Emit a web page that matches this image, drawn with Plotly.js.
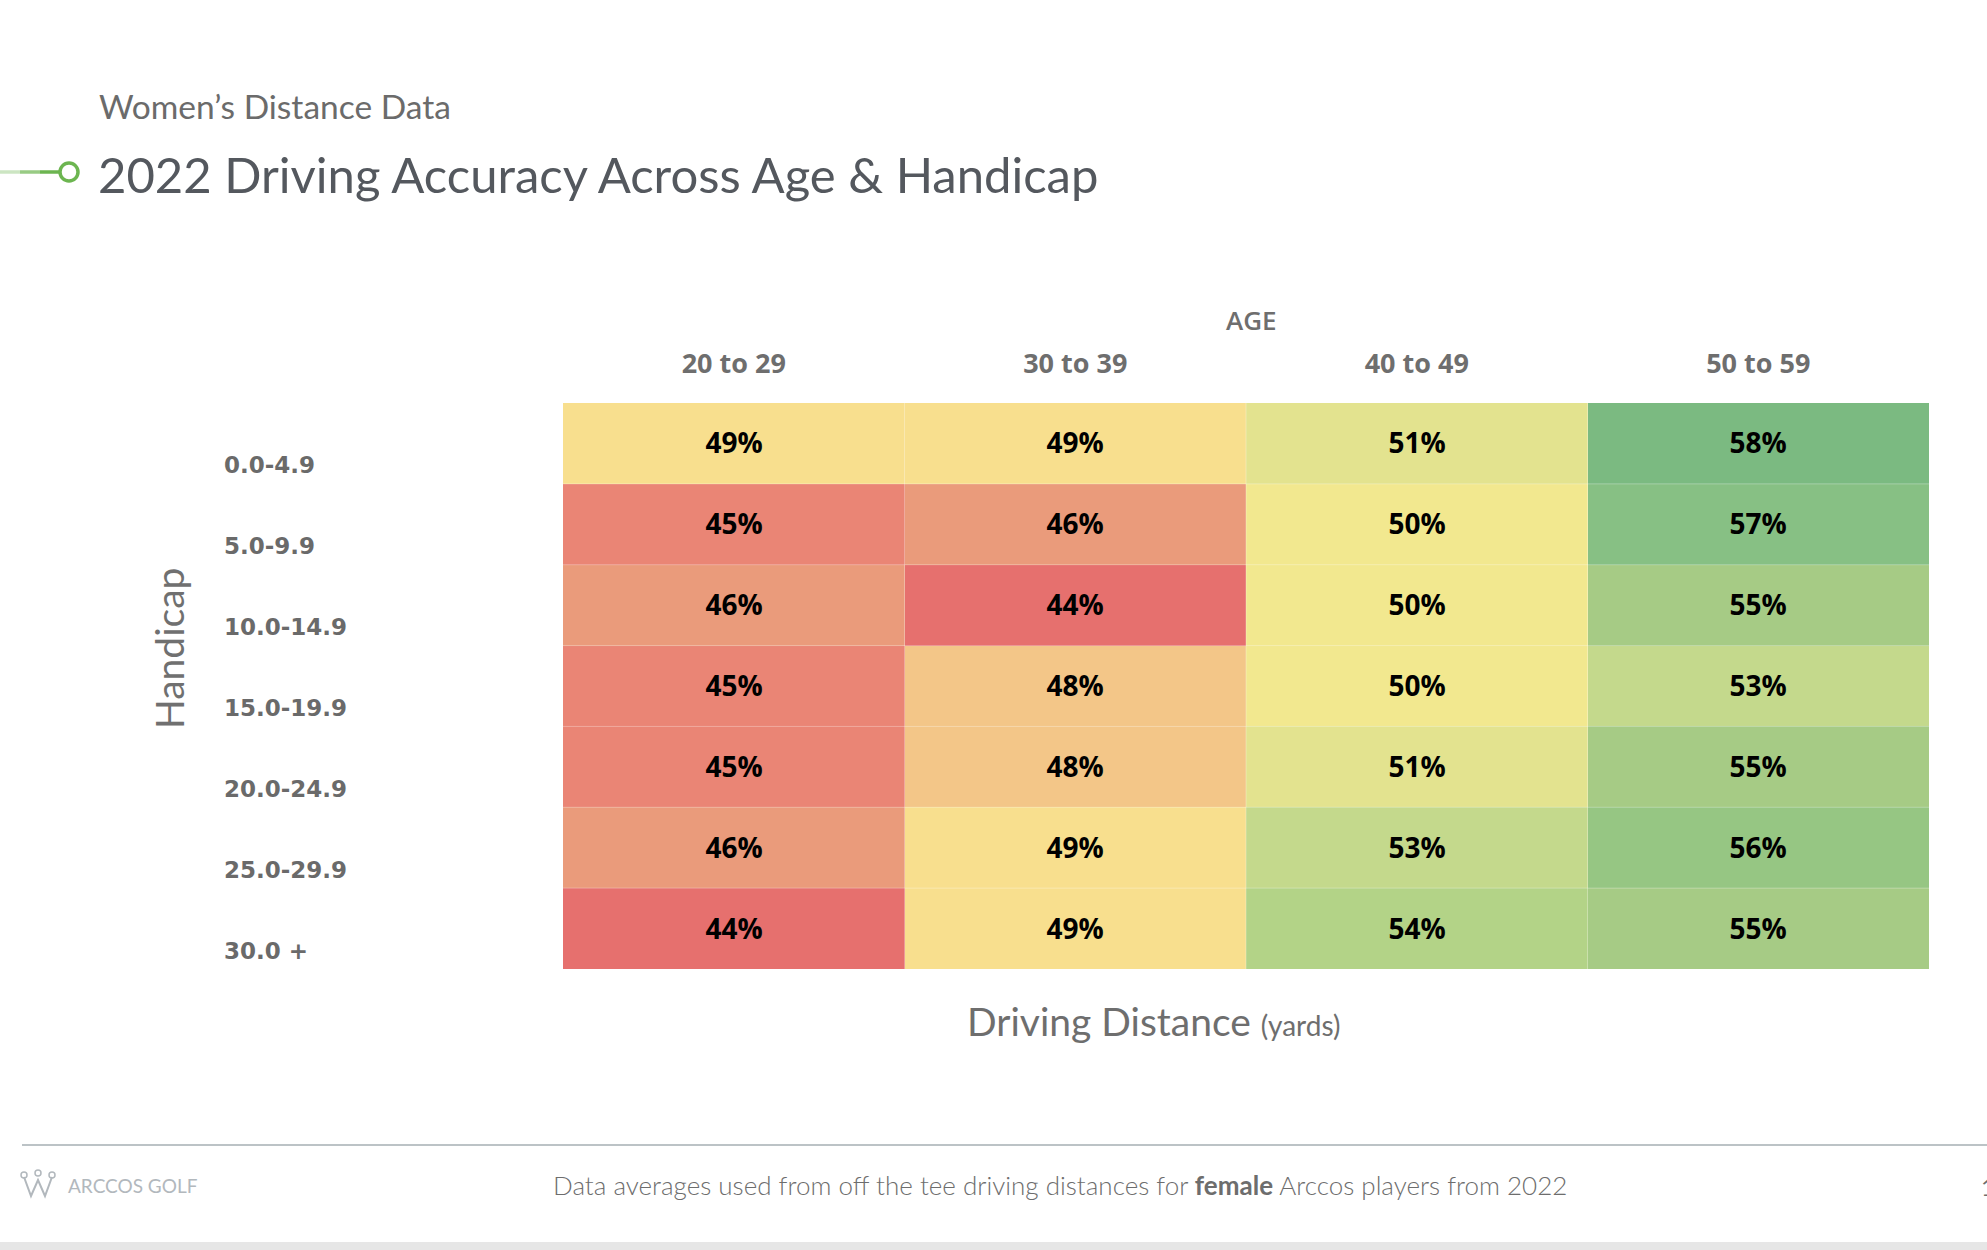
<!DOCTYPE html>
<html>
<head>
<meta charset="utf-8">
<script src="https://cdn.plot.ly/plotly-3.0.1.min.js"></script>
<style>
html,body{margin:0;padding:0;background:#fff;}
#chart{width:1987px;height:1250px;}
</style>
</head>
<body>
<div id="chart"></div>
<script>
// ---- data ----
const ageGroups = ["20 to 29", "30 to 39", "40 to 49", "50 to 59"];
const handicaps = ["0.0-4.9", "5.0-9.9", "10.0-14.9", "15.0-19.9", "20.0-24.9", "25.0-29.9", "30.0 +"];
const accuracy = [
  [49, 49, 51, 58],
  [45, 46, 50, 57],
  [46, 44, 50, 55],
  [45, 48, 50, 53],
  [45, 48, 51, 55],
  [46, 49, 53, 56],
  [44, 49, 54, 55]
];

// ---- colour scale anchors (value -> colour) ----
const scaleValues = [44, 45, 46, 48, 49, 50, 51, 53, 54, 55, 56, 57, 58];
const scaleColors = ["#e6706e", "#ea8575", "#ea9b7b", "#f3c688", "#f8df8e", "#f2e88f", "#e3e38f",
                     "#c4d98c", "#b3d387", "#a6cb85", "#96c683", "#87c084", "#7bba81"];
const zMin = 44, zMax = 58;
const colorscale = scaleValues.map((v, i) => [(v - zMin) / (zMax - zMin), scaleColors[i]]);

// ---- layout geometry (pixels) ----
const W = 1987, H = 1250;
const L = 563, R = 1929, T = 403, B = 969;
const px = x => (x - L) / (R - L);
const py = y => (B - y) / (B - T);

const grey = "#6e6e6e";

const trace = {
  type: "heatmap",
  x: ageGroups,
  y: handicaps,
  z: accuracy,
  zmin: zMin,
  zmax: zMax,
  colorscale: colorscale,
  showscale: false,
  xgap: 0,
  ygap: 0,
  texttemplate: "%{z}%",
  textfont: {family: "Open Sans, sans-serif", size: 28, color: "#000000", weight: 700},
  hoverinfo: "skip"
};

const annotations = [];
// row labels (left aligned, slightly below cell centres)
handicaps.forEach((h, i) => {
  annotations.push({
    xref: "paper", yref: "y", x: px(222), y: i, yshift: -22,
    xanchor: "left", yanchor: "middle", showarrow: false,
    text: h, font: {family: "DejaVu Sans, sans-serif", size: 23, color: "#6a6a6a", weight: 700}
  });
});
annotations.push(
  {xref: "paper", yref: "paper", x: px(97), y: py(106), xanchor: "left", yanchor: "middle", showarrow: false,
   text: "Women’s Distance Data", font: {family: "Lato, sans-serif", size: 33.5, color: "#6b6b6b"}},
  {xref: "paper", yref: "paper", x: px(96), y: py(174), xanchor: "left", yanchor: "middle", showarrow: false,
   text: "2022 Driving Accuracy Across Age & Handicap", font: {family: "Lato, sans-serif", size: 49, color: "#54585e"}},
  {xref: "paper", yref: "paper", x: px(1251), y: py(320), xanchor: "center", yanchor: "middle", showarrow: false,
   text: "AGE", font: {family: "Open Sans, sans-serif", size: 26, color: grey, weight: 600}},
  {xref: "paper", yref: "paper", x: px(169), y: py(649), xanchor: "center", yanchor: "middle", showarrow: false,
   textangle: -90, text: "Handicap", font: {family: "Lato, sans-serif", size: 39, color: "#707070"}},
  {xref: "paper", yref: "paper", x: px(1153), y: py(1021), xanchor: "center", yanchor: "middle", showarrow: false,
   text: "Driving Distance <span style=\"font-size:28px\">(yards)</span>",
   font: {family: "Lato, sans-serif", size: 39, color: "#6e6e6e"}},
  {xref: "paper", yref: "paper", x: px(1060), y: py(1185), xanchor: "center", yanchor: "middle", showarrow: false,
   text: "Data averages used from off the tee driving distances for <b>female</b> Arccos players from 2022",
   font: {family: "Lato, sans-serif", size: 26, color: "#6d6d6d", weight: 300}},
  {xref: "paper", yref: "paper", x: px(66), y: py(1185), xanchor: "left", yanchor: "middle", showarrow: false,
   text: "ARCCOS GOLF", font: {family: "Lato, sans-serif", size: 19, color: "#b2b8bd"}},
  {xref: "paper", yref: "paper", x: px(1979), y: py(1186), xanchor: "left", yanchor: "middle", showarrow: false,
   text: "1", font: {family: "Lato, sans-serif", size: 24, color: "#6d6d6d"}}
);

function pathFromPx(pts) {
  return "M" + pts.map(p => px(p[0]) + "," + py(p[1])).join(" L");
}

const shapes = [
  // green accent line (fading to the left)
  {type: "line", xref: "paper", yref: "paper", x0: px(0), x1: px(20), y0: py(172), y1: py(172),
   line: {color: "rgba(108,181,80,0.35)", width: 3.5}},
  {type: "line", xref: "paper", yref: "paper", x0: px(20), x1: px(40), y0: py(172), y1: py(172),
   line: {color: "rgba(108,181,80,0.7)", width: 3.5}},
  {type: "line", xref: "paper", yref: "paper", x0: px(40), x1: px(60), y0: py(172), y1: py(172),
   line: {color: "rgba(108,181,80,1)", width: 3.5}},
  {type: "circle", xref: "paper", yref: "paper", x0: px(60), x1: px(78), y0: py(163), y1: py(181),
   line: {color: "#6cb550", width: 3.5}, fillcolor: "#ffffff"},
  // footer rule
  {type: "line", xref: "paper", yref: "paper", x0: px(22), x1: px(1987), y0: py(1145), y1: py(1145),
   line: {color: "#bcc3c6", width: 2}},
  // bottom band
  {type: "rect", xref: "paper", yref: "paper", x0: px(0), x1: px(1987), y0: py(1242), y1: py(1250),
   line: {width: 0}, fillcolor: "#e6e6e6"},
  // logo
  {type: "path", xref: "paper", yref: "paper",
   path: pathFromPx([[24, 1177], [31, 1196], [38, 1180], [45, 1196], [52, 1177]]),
   line: {color: "#b2b8bd", width: 2}},
  {type: "circle", xref: "paper", yref: "paper", x0: px(21), x1: px(27), y0: py(1172), y1: py(1178),
   line: {color: "#b2b8bd", width: 1.5}},
  {type: "circle", xref: "paper", yref: "paper", x0: px(35), x1: px(41), y0: py(1170), y1: py(1176),
   line: {color: "#b2b8bd", width: 1.5}},
  {type: "circle", xref: "paper", yref: "paper", x0: px(49), x1: px(55), y0: py(1172), y1: py(1178),
   line: {color: "#b2b8bd", width: 1.5}}
];

// faint cell separators at category boundaries
for (let i = 1; i < ageGroups.length; i++) {
  shapes.push({type: "line", xref: "x", yref: "paper", x0: i - 0.5, x1: i - 0.5, y0: 0, y1: 1,
               line: {color: "rgba(255,255,255,0.3)", width: 1}});
}
for (let j = 1; j < handicaps.length; j++) {
  shapes.push({type: "line", xref: "paper", yref: "y", x0: 0, x1: 1, y0: j - 0.5, y1: j - 0.5,
               line: {color: "rgba(255,255,255,0.3)", width: 1}});
}

const layout = {
  width: W, height: H,
  margin: {l: L, r: W - R, t: T, b: H - B, pad: 0},
  paper_bgcolor: "#ffffff",
  plot_bgcolor: "#ffffff",
  showlegend: false,
  xaxis: {
    side: "top", type: "category", showgrid: false, zeroline: false, showline: false,
    ticks: "", ticklabelstandoff: 24,
    tickfont: {family: "Open Sans, sans-serif", size: 27, color: grey, weight: 700},
    fixedrange: true
  },
  yaxis: {
    type: "category", autorange: "reversed", showgrid: false, zeroline: false, showline: false,
    showticklabels: false, ticks: "", fixedrange: true
  },
  annotations: annotations,
  shapes: shapes
};

Plotly.newPlot("chart", [trace], layout, {displayModeBar: false, staticPlot: true});
</script>
</body>
</html>
